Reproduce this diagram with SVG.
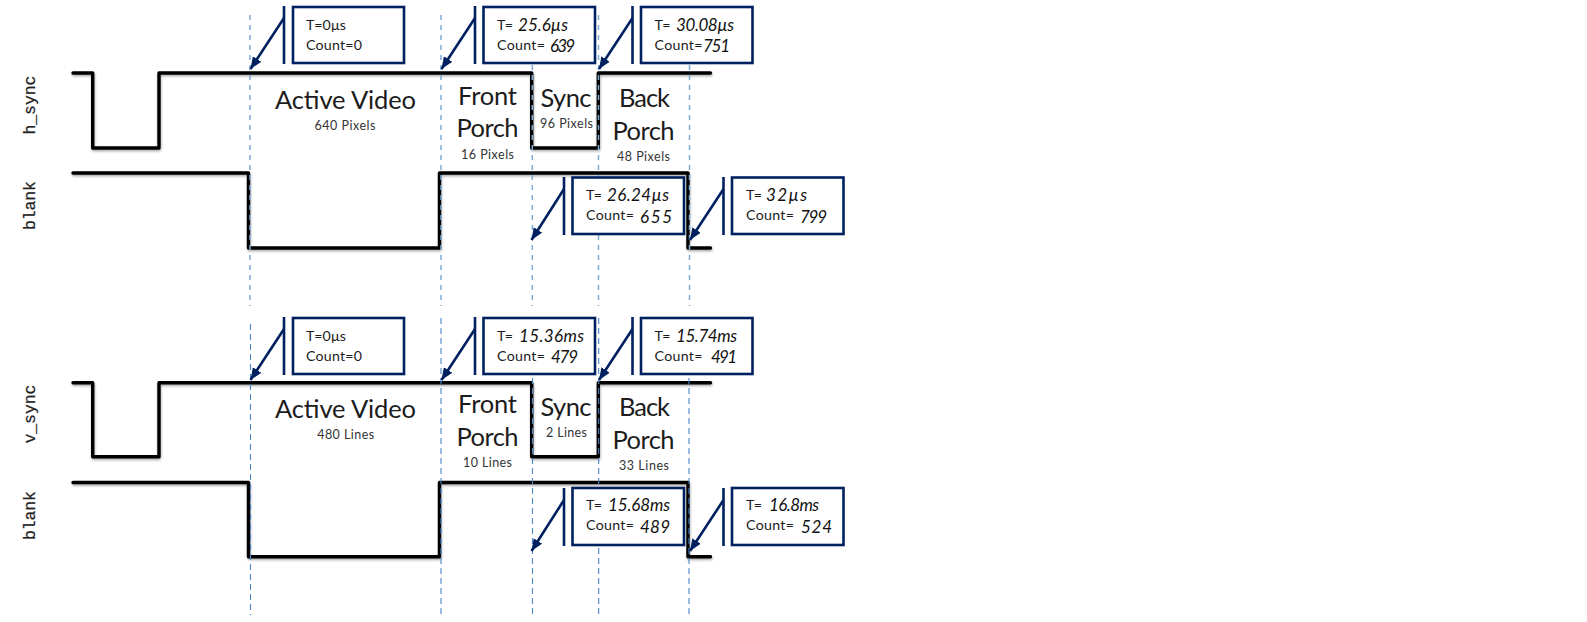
<svg xmlns="http://www.w3.org/2000/svg" width="1587" height="622" viewBox="0 0 1587 622">
<style>
text{font-family:Lato,"Open Sans","Liberation Sans",sans-serif;fill:#1c1c1c}
.sig{fill:none;stroke:#000;stroke-width:3.4;stroke-linecap:round;stroke-linejoin:round;filter:url(#sh)}
.d1{stroke:#7fabd8;stroke-width:1.5;stroke-dasharray:5 5;fill:none}
.d2{stroke:#4a86c8;stroke-width:1.1;stroke-dasharray:6 4;fill:none}
.box{fill:#fff;stroke:#002060;stroke-width:2.6}
.bar{stroke:#002060;stroke-width:2.6;fill:none}
.arr{stroke:#002060;stroke-width:2.6;fill:none;marker-end:url(#ah)}
.big{font-size:25.5px;text-anchor:middle}
.sm{font-size:12.5px;text-anchor:middle;fill:#333}
.lb{font-size:14.2px}
.hw{font-size:17px;font-style:italic;fill:#111}
.mono{font-family:"Liberation Mono",monospace;font-size:16.5px;fill:#222;stroke:#222;stroke-width:.25}
</style>
<defs>
<marker id="ah" markerUnits="userSpaceOnUse" markerWidth="13" markerHeight="12" refX="12" refY="5" orient="auto"><path d="M0 0L12 5L0 10z" fill="#002060"/></marker>
<filter id="sh" x="-5%" y="-5%" width="110%" height="115%"><feDropShadow dx="0.5" dy="1.5" stdDeviation="1" flood-color="#000" flood-opacity=".35"/></filter>
</defs>

<g id="timing-lines">
<path class="sig" d="M73 73H92.7V148H159V73H531.7V148H598.3V73H710.5"/>
<path class="sig" d="M73 173H248.5V248H439.5V173H688V248H710.5"/>
<path class="sig" d="M73 382.7H92.7V456.7H159V382.7H531.7V456.7H598.3V382.7H710.5"/>
<path class="sig" d="M73 482.5H248.5V556.7H439.5V482.5H688V556.7H710.5"/>
</g>
<g id="guides">
<path class="d1" d="M250 15V306M441 15V306M532.3 15V306M598.5 15V306M689.5 15V306"/>
<path class="d2" d="M250.5 324V615M441 318V615M532.5 318V615M598.7 318V615M689 318V615"/>
</g>

<g id="connectors">
<path class="bar" d="M284 6V64M475 6V64M632.5 6V64M564 177V235M723.5 177V235"/>
<path class="arr" d="M284 18L250.5 69"/><path class="arr" d="M475 18L441.5 69"/><path class="arr" d="M632.5 18L599 69"/>
<path class="arr" d="M564 189L531.5 240"/><path class="arr" d="M723.5 189L690 240"/>
<path class="bar" d="M284 317V375M475 317V375M632.5 317V375M564 488V546M723.5 488V546"/>
<path class="arr" d="M284 329L250.5 380"/><path class="arr" d="M475 329L441.5 380"/><path class="arr" d="M632.5 329L599 380"/>
<path class="arr" d="M564 500L531.5 551"/><path class="arr" d="M723.5 500L690 551"/>
</g>

<g id="signal-labels">
<text class="mono" transform="translate(35 134.5) rotate(-90)" textLength="59">h_sync</text>
<text class="mono" transform="translate(35 230) rotate(-90)" textLength="49">blank</text>
<text class="mono" transform="translate(35 443.5) rotate(-90)" textLength="59">v_sync</text>
<text class="mono" transform="translate(35 540) rotate(-90)" textLength="49">blank</text>
</g>

<g id="h-phases">
<text class="big" x="345.5" y="108.7" textLength="141">Active Video</text>
<text class="sm" x="345" y="129.5" textLength="61">640 Pixels</text>
<text class="big" x="487.5" y="104.7" textLength="59">Front</text>
<text class="big" x="487.5" y="137.4" textLength="62">Porch</text>
<text class="sm" x="487.5" y="158.7" textLength="53">16 Pixels</text>
<text class="big" x="566" y="106.7" textLength="51">Sync</text>
<text class="sm" x="566.5" y="127.7" textLength="53">96 Pixels</text>
<text class="big" x="644.5" y="107.4" textLength="51">Back</text>
<text class="big" x="643.5" y="140.4" textLength="62">Porch</text>
<text class="sm" x="643.5" y="161.3" textLength="53">48 Pixels</text>
</g>
<g id="v-phases">
<text class="big" x="345.5" y="418.4" textLength="141">Active Video</text>
<text class="sm" x="345.7" y="438.7" textLength="57">480 Lines</text>
<text class="big" x="487.5" y="413.4" textLength="59">Front</text>
<text class="big" x="487.5" y="446.4" textLength="62">Porch</text>
<text class="sm" x="487.5" y="467.3" textLength="49">10 Lines</text>
<text class="big" x="566" y="415.7" textLength="51">Sync</text>
<text class="sm" x="566.5" y="436.7" textLength="41">2 Lines</text>
<text class="big" x="644.5" y="416.4" textLength="51">Back</text>
<text class="big" x="643.5" y="449.4" textLength="62">Porch</text>
<text class="sm" x="644" y="470.3" textLength="50">33 Lines</text>
</g>

<g id="h-t0"><rect class="box" x="293" y="7" width="111" height="56"/>
<text class="lb" x="306" y="30" textLength="40">T=0µs</text><text class="lb" x="306" y="49.6" textLength="56">Count=0</text></g>
<g id="h-t639"><rect class="box" x="483.5" y="7" width="111.5" height="56"/>
<text class="lb" x="497" y="30" textLength="16">T=</text><text class="hw" x="518" y="31" textLength="50">25.6µs</text>
<text class="lb" x="497" y="49.6" textLength="48">Count=</text><text class="hw" x="550" y="52" textLength="25">639</text></g>
<g id="h-t751"><rect class="box" x="641" y="7" width="111.5" height="56"/>
<text class="lb" x="654.5" y="30" textLength="16">T=</text><text class="hw" x="676" y="31" textLength="58">30.08µs</text>
<text class="lb" x="654.5" y="49.6" textLength="48">Count=</text><text class="hw" x="703" y="52" textLength="27">751</text></g>
<g id="h-t655"><rect class="box" x="572.5" y="177.5" width="111.5" height="56.5"/>
<text class="lb" x="586" y="199.5" textLength="16">T=</text><text class="hw" x="607" y="201" textLength="62">26.24µs</text>
<text class="lb" x="586" y="220.3" textLength="48">Count=</text><text class="hw" x="640" y="223" textLength="32">655</text></g>
<g id="h-t799"><rect class="box" x="732" y="177.5" width="111.5" height="56.5"/>
<text class="lb" x="746" y="199.5" textLength="16">T=</text><text class="hw" x="766" y="201" textLength="41">32µs</text>
<text class="lb" x="746" y="220.3" textLength="48">Count=</text><text class="hw" x="800" y="223" textLength="27">799</text></g>

<g id="v-t0"><rect class="box" x="293" y="318" width="111" height="56"/>
<text class="lb" x="306" y="341" textLength="40">T=0µs</text><text class="lb" x="306" y="360.6" textLength="56">Count=0</text></g>
<g id="v-t479"><rect class="box" x="483.5" y="318" width="111.5" height="56"/>
<text class="lb" x="497" y="341" textLength="16">T=</text><text class="hw" x="519" y="342" textLength="65">15.36ms</text>
<text class="lb" x="497" y="360.6" textLength="48">Count=</text><text class="hw" x="551" y="363" textLength="27">479</text></g>
<g id="v-t491"><rect class="box" x="641" y="318" width="111.5" height="56"/>
<text class="lb" x="654.5" y="341" textLength="16">T=</text><text class="hw" x="676" y="342" textLength="61">15.74ms</text>
<text class="lb" x="654.5" y="360.6" textLength="48">Count=</text><text class="hw" x="711" y="363" textLength="26">491</text></g>
<g id="v-t489"><rect class="box" x="572.5" y="488" width="111.5" height="57"/>
<text class="lb" x="586" y="510" textLength="16">T=</text><text class="hw" x="608" y="511" textLength="62">15.68ms</text>
<text class="lb" x="586" y="530.3" textLength="48">Count=</text><text class="hw" x="640" y="533" textLength="30">489</text></g>
<g id="v-t524"><rect class="box" x="732" y="488" width="111.5" height="57"/>
<text class="lb" x="746" y="510" textLength="16">T=</text><text class="hw" x="769" y="511" textLength="50">16.8ms</text>
<text class="lb" x="746" y="530.3" textLength="48">Count=</text><text class="hw" x="801" y="533" textLength="31">524</text></g>
</svg>
